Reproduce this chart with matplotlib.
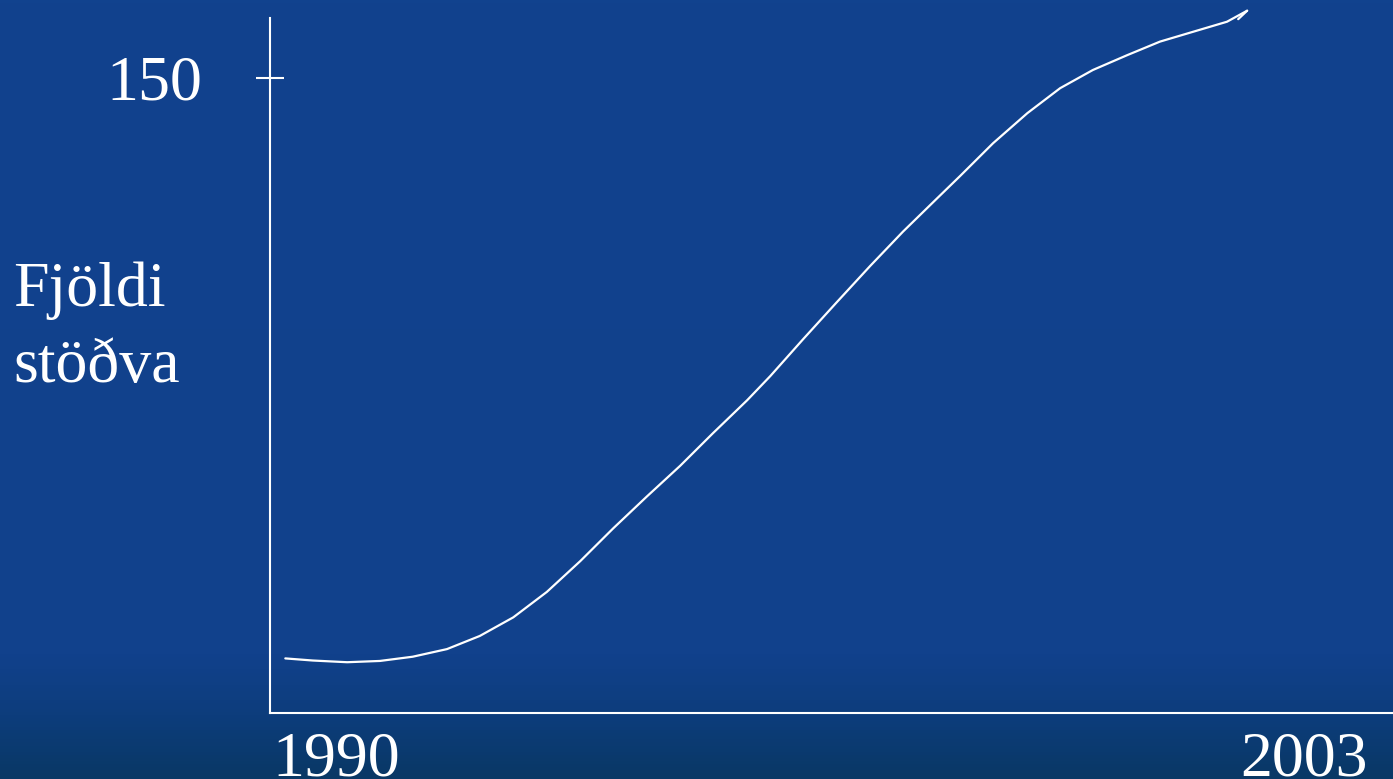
import numpy as np
import matplotlib.pyplot as plt
from matplotlib.colors import LinearSegmentedColormap

# Gögn lesin af myndinni (ár, fjöldi stöðva)
ar = [1989.32, 1989.69, 1990.15, 1990.59, 1991.03, 1991.49, 1991.93, 1992.38,
      1992.83, 1993.28, 1993.72, 1994.17, 1994.62, 1995.06, 1995.52, 1995.83,
      1996.27, 1996.72, 1997.17, 1997.61, 1998.07, 1998.38, 1998.82, 1999.28,
      1999.72, 2000.16, 2000.62, 2001.06, 2001.50, 2001.96, 2002.23]
fjoldi = [12.9, 12.4, 12.0, 12.3, 13.3, 15.1, 18.2, 22.6,
          28.6, 35.9, 43.6, 51.1, 58.4, 66.1, 73.9, 79.6,
          88.3, 97.0, 105.6, 113.7, 121.6, 126.9, 134.6, 141.7,
          147.6, 151.9, 155.4, 158.6, 160.9, 163.3, 165.9]
# litli krókurinn við endann
krokur_ar = [2002.23, 2002.11]
krokur_fjoldi = [165.9, 163.9]

x_ticks = [1990, 2003]
x_labels = ["1990", "2003"]
y_tick = 150

plt.rcParams['font.family'] = ['Liberation Serif', 'DejaVu Serif']

fig = plt.figure(figsize=(13.93, 7.79), dpi=100)

# bakgrunnur
bg = fig.add_axes([0, 0, 1, 1])
cmap = LinearSegmentedColormap.from_list(
    "bg", [(0.0, "#093865"), (0.08, "#0d3d7c"), (0.16, "#11418c"), (1.0, "#11428e")])
grad = np.linspace(0, 1, 256).reshape(-1, 1)
bg.imshow(grad, aspect="auto", cmap=cmap, origin="lower", extent=[0, 1, 0, 1])
bg.set_axis_off()

ax = fig.add_axes([0.1938, 0.0847, 0.8062, 0.8922])
ax.set_facecolor("none")
ax.plot(ar, fjoldi, color="white", linewidth=1.6, clip_on=False,
        solid_joinstyle="round", solid_capstyle="round")
ax.plot(krokur_ar, krokur_fjoldi, color="white", linewidth=1.6, clip_on=False,
        solid_capstyle="round")

ax.set_xlim(1989.114, 2004.188)
ax.set_ylim(0, 164.18)
for s in ["top", "right"]:
    ax.spines[s].set_visible(False)
for s in ["left", "bottom"]:
    ax.spines[s].set_color("white")
    ax.spines[s].set_linewidth(1.5)

ax.set_xticks(x_ticks)
ax.set_xticklabels(x_labels)
ax.tick_params(axis="x", length=0, pad=13, labelsize=46, labelcolor="white")
ax.set_yticks([y_tick])
ax.tick_params(axis="y", direction="inout", length=20, width=1.5, color="white",
               labelleft=False)
ax.annotate(str(y_tick), xy=(0, y_tick), xycoords=("axes fraction", "data"),
            xytext=(-49, -5), textcoords="offset points", ha="right", va="center",
            fontsize=46, color="white")

fig.text(13 / 1393, 1 - 306 / 779, "Fjöldi", fontsize=46, color="white", va="baseline")
fig.text(13 / 1393, 1 - 382 / 779, "stöðva", fontsize=46, color="white", va="baseline")

fig.savefig("out.png", dpi=100)
